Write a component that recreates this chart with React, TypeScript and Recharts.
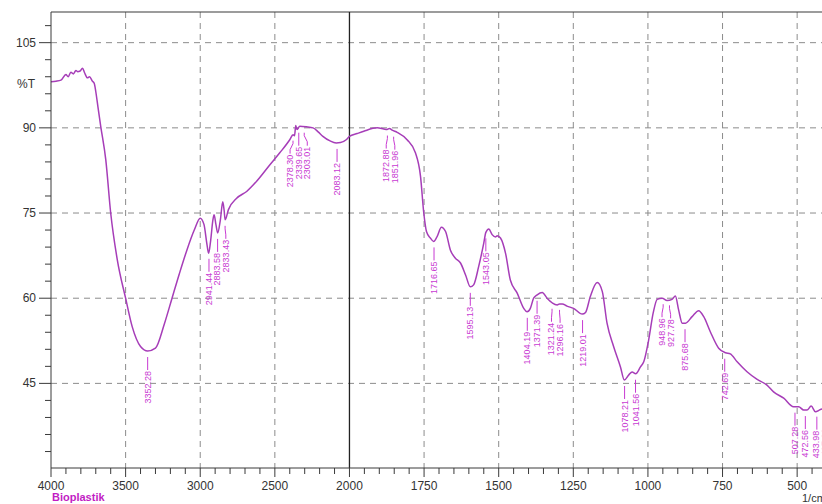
import React from "react";
import {
  ComposedChart,
  Line,
  Scatter,
  XAxis,
  YAxis,
  CartesianGrid,
  ReferenceLine,
} from "recharts";

// FTIR transmission spectrum of the bioplastic sample (wavenumber in 1/cm, %T)
const WAVENUMBERS = [
  4000, 3967, 3933, 3900, 3885, 3867, 3850, 3833, 3822, 3805, 3789, 3775, 3756,
  3742, 3722, 3710, 3700, 3685, 3667, 3633, 3600, 3556, 3500, 3456, 3400, 3352,
  3300, 3240, 3189, 3140, 3089, 3040, 3000, 2975, 2955, 2944, 2930, 2915, 2907,
  2895, 2883, 2865, 2849, 2840, 2833, 2811, 2756, 2689, 2622, 2533, 2467, 2400,
  2378, 2368, 2360, 2351, 2333, 2289, 2244, 2210, 2178, 2130, 2089, 2060, 2022,
  2000, 1974, 1952, 1907, 1885, 1874, 1866, 1857, 1840, 1807, 1779, 1762, 1751,
  1742, 1729, 1718, 1706, 1692, 1678, 1662, 1645, 1628, 1611, 1595, 1584, 1567,
  1550, 1543, 1533, 1522, 1510, 1505, 1494, 1477, 1461, 1438, 1416, 1405, 1394,
  1383, 1371, 1354, 1338, 1321, 1304, 1296, 1287, 1271, 1249, 1220, 1209, 1193,
  1170, 1153, 1137, 1115, 1092, 1079, 1064, 1053, 1041, 1025, 1014, 998, 982,
  969, 952, 936, 919, 908, 897, 885, 874, 852, 830, 813, 791, 763, 740, 724,
  701, 668, 634, 601, 579, 545, 512, 495, 478, 467, 453, 439, 422, 410, 400,
];

const TRANSMITTANCE = [
  98.1, 98.2, 98.4, 99.4, 99.0, 99.8, 99.5, 100.1, 99.9, 100.0, 100.5, 99.7,
  98.8, 99.0, 98.2, 97.8, 96.4, 93.6, 90.3, 84.4, 75.0, 66.8, 60.0, 55.0, 51.5,
  50.7, 51.2, 55.5, 60.0, 64.3, 68.5, 72.0, 74.1, 73.0, 69.5, 67.9, 70.2, 73.8,
  74.7, 73.0, 71.5, 73.8, 77.0, 75.5, 73.8, 75.6, 77.6, 78.8, 80.6, 83.5, 85.6,
  87.9, 88.8, 88.6, 90.4, 89.7, 90.3, 90.2, 90.0, 89.3, 88.5, 87.7, 87.35, 87.4,
  87.9, 88.5, 89.0, 89.4, 90.0, 89.8, 89.7, 89.9, 89.6, 89.2, 87.9, 85.6, 81.5,
  75.0, 71.75, 70.6, 70.0, 70.9, 72.5, 71.75, 68.5, 67.05, 66.2, 64.1, 62.0,
  62.35, 65.6, 69.7, 71.6, 72.2, 71.2, 70.8, 71.0, 70.6, 67.9, 63.2, 60.9, 58.2,
  57.6, 58.2, 60.0, 60.6, 61.0, 60.0, 59.2, 58.8, 59.0, 59.0, 58.6, 58.2, 57.2,
  57.5, 60.3, 62.75, 61.2, 55.6, 51.5, 47.9, 45.6, 46.5, 47.0, 46.7, 47.9, 48.8,
  52.5, 57.5, 59.8, 60.0, 59.6, 59.8, 60.4, 57.9, 55.6, 55.6, 56.75, 57.8,
  56.75, 54.1, 51.2, 50.4, 50.2, 48.8, 47.05, 45.7, 44.7, 43.5, 42.4, 40.9, 40.9,
  40.3, 40.3, 41.0, 40.0, 40.4, 40.6, 40.8,
];

// Labelled bands
const PEAK_WAVENUMBERS = [
  3352.28, 2941.44, 2883.58, 2833.43, 2378.3, 2339.65, 2303.01, 2083.12,
  1872.88, 1851.96, 1716.65, 1595.13, 1543.05, 1404.19, 1371.39, 1321.24,
  1296.16, 1219.01, 1078.21, 1041.56, 948.96, 927.78, 875.68, 742.69, 507.28,
  472.56, 433.98, 407.91,
];
const PEAK_TRANSMITTANCE = [
  50.7, 68.0, 71.5, 73.8, 88.8, 90.2, 90.2, 87.35, 89.7, 89.5, 70.0, 62.0, 71.6,
  57.6, 60.6, 59.2, 59.0, 57.2, 45.6, 46.7, 60.0, 59.8, 55.6, 50.4, 40.9, 40.3,
  40.2, 40.6,
];

// Axis ticks (wavenumbers / %T)
const X_MAJOR = [4000, 3500, 3000, 2500, 2000, 1750, 1500, 1250, 1000, 750, 500];
const X_MINOR = [
  3900, 3800, 3700, 3600, 3400, 3300, 3200, 3100, 2900, 2800, 2700, 2600, 2400,
  2300, 2200, 2100, 1950, 1900, 1850, 1800, 1700, 1650, 1600, 1550, 1450, 1400,
  1350, 1300, 1200, 1150, 1100, 1050, 950, 900, 850, 800, 700, 650, 600, 550,
  450,
];
const X_GRID = [3500, 3000, 2500, 1750, 1500, 1250, 1000, 750, 500];
const Y_MAJOR = [45, 60, 75, 90, 105];
const Y_MINOR = [
  33, 36, 39, 42, 48, 51, 54, 57, 63, 66, 69, 72, 78, 81, 84, 87, 93, 96, 99,
  102, 108,
];

const Y_MIN = 30.1;
const Y_MAX = 110.4;

// Split wavenumber scale: 4000–2000 is drawn at half the density of 2000–400.
const toU = (w: number) => (w >= 2000 ? (4000 - w) / 2 : 1000 + (2000 - w));
const U_MAX = 2600;

const CHART_W = 827;
const Y_AXIS_W = 51;
const PX_PER_U = (CHART_W - Y_AXIS_W) / U_MAX;

const LINE_COLOR = "#a63db8";
const LABEL_COLOR = "#c83ad2";
const AXIS_COLOR = "#3a3a3a";
const FONT = "'Liberation Sans', Arial, sans-serif";

// Spread crowded band labels apart (centred on each crowded group)
const LABEL_GAP = 8.6;
function spreadLabels(px: number[]): number[] {
  type Cluster = { ids: number[]; mean: number };
  const clusters: Cluster[] = [];
  const pos = (c: Cluster, k: number) => c.mean + (k - (c.ids.length - 1) / 2) * LABEL_GAP;
  px.forEach((p, i) => {
    clusters.push({ ids: [i], mean: p });
    while (clusters.length > 1) {
      const b = clusters[clusters.length - 1];
      const a = clusters[clusters.length - 2];
      if (pos(a, a.ids.length - 1) + LABEL_GAP <= pos(b, 0)) break;
      const ids = [...a.ids, ...b.ids];
      const mean = ids.reduce((s, id) => s + px[id], 0) / ids.length;
      clusters.splice(clusters.length - 2, 2, { ids, mean });
    }
  });
  const out = new Array(px.length).fill(0);
  clusters.forEach((c) => c.ids.forEach((id, k) => (out[id] = pos(c, k))));
  return out;
}

const spectrum = WAVENUMBERS.map((w, i) => ({ u: toU(w), T: TRANSMITTANCE[i] }));
const peakPx = PEAK_WAVENUMBERS.map((w) => toU(w) * PX_PER_U);
const labelPx = spreadLabels(peakPx);
const peaks = PEAK_WAVENUMBERS.map((w, i) => ({
  u: toU(w),
  T: PEAK_TRANSMITTANCE[i],
  text: w.toFixed(2),
  shift: labelPx[i] - peakPx[i],
}));

const xMajorU = X_MAJOR.map(toU);
const xTicks = [...X_MAJOR, ...X_MINOR].map(toU).sort((a, b) => a - b);
const yTicks = [...Y_MAJOR, ...Y_MINOR].sort((a, b) => a - b);
const majorLabelByU = new Map<number, number>(X_MAJOR.map((w) => [toU(w), w]));

const XTick = (props: any) => {
  const { x, y, payload } = props;
  const major = xMajorU.includes(payload.value);
  return (
    <g>
      <line x1={x} y1={y} x2={x} y2={y + (major ? 9 : 6)} stroke={AXIS_COLOR} strokeWidth={1} />
      {major && (
        <text x={x} y={y + 22} textAnchor="middle" fontSize={12} fill="#333" fontFamily={FONT}>
          {majorLabelByU.get(payload.value)}
        </text>
      )}
    </g>
  );
};

const YTick = (props: any) => {
  const { x, y, payload } = props;
  const major = Y_MAJOR.includes(payload.value);
  return (
    <g>
      <line x1={x - (major ? 12 : 6)} y1={y} x2={x} y2={y} stroke={AXIS_COLOR} strokeWidth={1} />
      {major && (
        <text x={x - 15} y={y + 4} textAnchor="end" fontSize={12} fill="#333" fontFamily={FONT}>
          {payload.value}
        </text>
      )}
    </g>
  );
};

// Leader line plus rotated wavenumber under each labelled band
const PeakLabel = (props: any) => {
  const { cx, cy, payload } = props;
  if (cx == null || cy == null) return <g />;
  const lx = cx + (payload.shift || 0);
  const top = cy + 6;
  const end = cy + 19;
  const bent = Math.abs(lx - cx) > 0.5;
  const points = bent
    ? `${cx},${top} ${cx},${top + 3} ${lx},${end - 4} ${lx},${end}`
    : `${cx},${top} ${cx},${end}`;
  return (
    <g>
      <polyline points={points} fill="none" stroke={LABEL_COLOR} strokeWidth={1} />
      <text
        x={lx}
        y={end + 1}
        transform={`rotate(-90 ${lx} ${end + 1})`}
        textAnchor="end"
        dominantBaseline="central"
        fontSize={9}
        fill={LABEL_COLOR}
        fontFamily={FONT}
      >
        {payload.text}
      </text>
    </g>
  );
};

export default function App() {
  return (
    <div
      style={{
        position: "absolute",
        left: 0,
        top: 0,
        width: 822,
        height: 504,
        overflow: "hidden",
        background: "#fff",
      }}
    >
      <ComposedChart
        width={CHART_W}
        height={504}
        data={spectrum}
        margin={{ top: 12, right: 0, bottom: 0, left: 0 }}
      >
        <CartesianGrid
          stroke="#8c8c8c"
          strokeDasharray="6 5"
          horizontalValues={Y_MAJOR}
          verticalValues={X_GRID.map(toU)}
        />
        <XAxis
          type="number"
          dataKey="u"
          domain={[0, U_MAX]}
          ticks={xTicks}
          interval={0}
          tickSize={0}
          tickMargin={0}
          tickLine={false}
          tick={XTick}
          axisLine={{ stroke: AXIS_COLOR }}
          height={36}
          allowDataOverflow
        />
        <YAxis
          type="number"
          domain={[Y_MIN, Y_MAX]}
          ticks={yTicks}
          interval={0}
          tickSize={0}
          tickMargin={0}
          tickLine={false}
          tick={YTick}
          axisLine={{ stroke: AXIS_COLOR }}
          width={Y_AXIS_W}
          allowDataOverflow
        />
        <ReferenceLine y={Y_MAX} stroke={AXIS_COLOR} strokeWidth={1.2} ifOverflow="visible" />
        <ReferenceLine x={toU(2000)} stroke="#222" strokeWidth={1.3} />
        <Line
          type="monotone"
          dataKey="T"
          stroke={LINE_COLOR}
          strokeWidth={1.5}
          dot={false}
          isAnimationActive={false}
        />
        <Scatter data={peaks} dataKey="T" shape={PeakLabel} isAnimationActive={false} />
      </ComposedChart>
      <svg
        width={822}
        height={504}
        style={{ position: "absolute", left: 0, top: 0, pointerEvents: "none" }}
      >
        <text x={17} y={88} fontSize={12} fill="#333" fontFamily={FONT}>
          %T
        </text>
        <text x={52} y={501} fontSize={11} fontWeight="bold" fill="#c21cc4" fontFamily={FONT}>
          Bioplastik
        </text>
        <text x={802} y={502} fontSize={11} fill="#333" fontFamily={FONT}>
          1/cm
        </text>
      </svg>
    </div>
  );
}
